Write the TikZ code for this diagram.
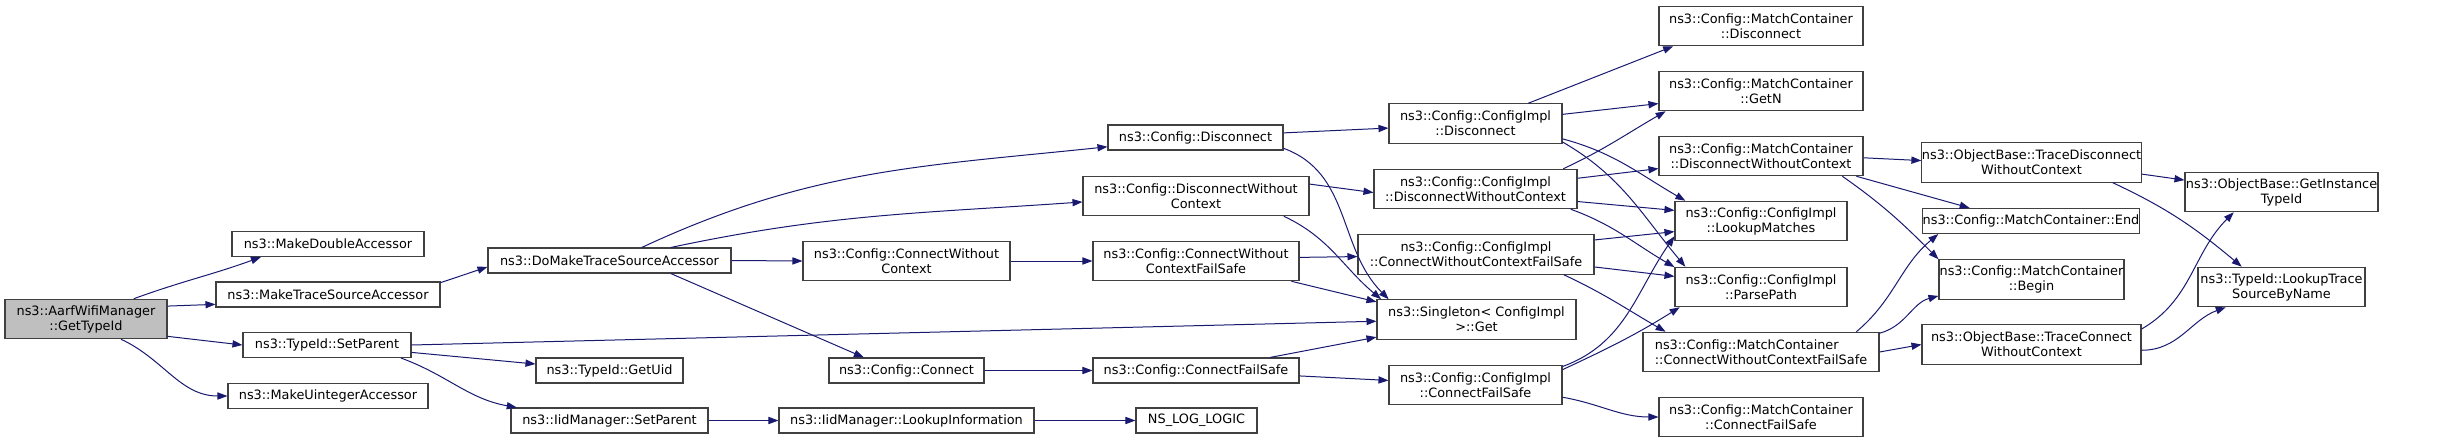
\documentclass[tikz,border=0pt]{standalone}
\usepackage{fontspec}
\newfontfamily\dejavu{DejaVu Sans}
\usetikzlibrary{arrows.meta}
\definecolor{edgeblue}{HTML}{191970}
\tikzset{
  fn/.style={draw=black!75, fill=white, line width=0.8pt, inner sep=0pt, align=center,
             minimum height=18.75pt, font=\dejavu\fontsize{9.65}{11.25}\selectfont},
  bw/.style={minimum width=#1*0.75pt},
  tall/.style={minimum height=29.6pt},
  root/.style={fn, fill=black!25},
  edge/.style={draw=edgeblue, line width=0.75pt, -{Triangle[length=7.5pt,width=5.4pt]}},
}
\begin{document}
\begin{tikzpicture}[x=0.75pt,y=-0.75pt]
  \useasboundingbox (0,0) rectangle (2437,443);

  % rank 0 and 1
  \node[root, bw=162, tall] (getid) at (86,319) {ns3::AarfWifiManager\\::GetTypeId};
  \node[fn, bw=192] (mkdbl) at (328,244) {ns3::MakeDoubleAccessor};
  \node[fn, bw=224] (mktrace) at (328,294.5) {ns3::MakeTraceSourceAccessor};
  \node[fn, bw=168] (tidpar) at (327,345) {ns3::TypeId::SetParent};
  \node[fn, bw=200] (mkuint) at (328,396) {ns3::MakeUintegerAccessor};

  % rank 2 and 3
  \node[fn, bw=243] (domake) at (609.5,260.5) {ns3::DoMakeTraceSourceAccessor};
  \node[fn, bw=147] (getuid) at (609.5,370.5) {ns3::TypeId::GetUid};
  \node[fn, bw=197] (iidpar) at (609.5,420.5) {ns3::IidManager::SetParent};
  \node[fn, bw=207, tall] (conwoc) at (906.5,261) {ns3::Config::ConnectWithout\\Context};
  \node[fn, bw=155] (con) at (906.5,370.5) {ns3::Config::Connect};
  \node[fn, bw=255] (lookinfo) at (906.5,420.5) {ns3::IidManager::LookupInformation};

  % rank 4
  \node[fn, bw=175] (discon) at (1195.5,137.5) {ns3::Config::Disconnect};
  \node[fn, bw=226, tall] (disconwoc) at (1196,196) {ns3::Config::DisconnectWithout\\Context};
  \node[fn, bw=206, tall] (conwocfs) at (1196,261) {ns3::Config::ConnectWithout\\ContextFailSafe};
  \node[fn, bw=206] (confs) at (1196,370.5) {ns3::Config::ConnectFailSafe};
  \node[fn, bw=121] (nslog) at (1196.5,420.5) {NS\_LOG\_LOGIC};

  % rank 5
  \node[fn, bw=173, tall] (idiscon) at (1475.5,123.5) {ns3::Config::ConfigImpl\\::Disconnect};
  \node[fn, bw=203, tall] (idisconwoc) at (1475.5,189) {ns3::Config::ConfigImpl\\::DisconnectWithoutContext};
  \node[fn, bw=236, tall] (iconwocfs) at (1476,254.5) {ns3::Config::ConfigImpl\\::ConnectWithoutContextFailSafe};
  \node[fn, bw=199, tall] (single) at (1476.5,319.5) {ns3::Singleton< ConfigImpl\\>::Get};
  \node[fn, bw=173, tall] (iconfs) at (1475.5,385) {ns3::Config::ConfigImpl\\::ConnectFailSafe};

  % rank 6
  \node[fn, bw=204, tall] (mdiscon) at (1761,26) {ns3::Config::MatchContainer\\::Disconnect};
  \node[fn, bw=204, tall] (getn) at (1761,91) {ns3::Config::MatchContainer\\::GetN};
  \node[fn, bw=204, tall] (mdisconwoc) at (1761,156) {ns3::Config::MatchContainer\\::DisconnectWithoutContext};
  \node[fn, bw=172, tall] (lookup) at (1761,221) {ns3::Config::ConfigImpl\\::LookupMatches};
  \node[fn, bw=172, tall] (parse) at (1761,287) {ns3::Config::ConfigImpl\\::ParsePath};
  \node[fn, bw=236, tall, align=left] (mconwocfs) at (1761,352) {ns3::Config::MatchContainer\\::ConnectWithoutContextFailSafe};
  \node[fn, bw=204, tall] (mconfs) at (1761,417) {ns3::Config::MatchContainer\\::ConnectFailSafe};

  % rank 7 and 8
  \node[fn, bw=219, tall] (tdiscon) at (2031.5,162.5) {ns3::ObjectBase::TraceDisconnect\\WithoutContext};
  \node[fn, bw=214] (mend) at (2031,221) {ns3::Config::MatchContainer::End};
  \node[fn, bw=185, tall] (mbegin) at (2031.5,279.5) {ns3::Config::MatchContainer\\::Begin};
  \node[fn, bw=219, tall] (tcon) at (2031.5,344.5) {ns3::ObjectBase::TraceConnect\\WithoutContext};
  \node[fn, bw=193, tall] (ginst) at (2281.5,192) {ns3::ObjectBase::GetInstance\\TypeId};
  \node[fn, bw=167, tall] (ltrace) at (2281.5,287) {ns3::TypeId::LookupTrace\\SourceByName};

  % calls
  \draw[edge] (getid.23) to[out=20,in=200] (mkdbl.191);
  \draw[edge] (getid.9) -- (mktrace.185);
  \draw[edge] (getid.-12) -- (tidpar.west);
  \draw[edge] (getid.-30) to[out=-25,in=180] (mkuint.west);
  \draw[edge] (mktrace.6) -- (domake.183);
  \draw[edge] (domake.22) to[out=25,in=186] (discon.186);
  \draw[edge] (domake.12) to[out=12,in=184] (disconwoc.183);
  \draw[edge] (domake.east) -- (conwoc.west);
  \draw[edge] (domake.-12) -- (con.163);
  \draw[edge] (tidpar.east) -- (single.181);
  \draw[edge] (tidpar.-5) -- (getuid.175);
  \draw[edge] (tidpar.-10) to[out=-20,in=170] (iidpar.172);
  \draw[edge] (iidpar.east) -- (lookinfo.west);
  \draw[edge] (lookinfo.east) -- (nslog.west);
  \draw[edge] (conwoc.east) -- (conwocfs.west);
  \draw[edge] (con.east) -- (confs.west);

  \draw[edge] (discon.3) -- (idiscon.183);
  \draw[edge] (discon.-7) to[out=-20,in=135] (single.167);
  \draw[edge] (disconwoc.6) -- (idisconwoc.182);
  \draw[edge] (disconwoc.-13) to[out=-25,in=140] (single.168.5);
  \draw[edge] (conwocfs.2) -- (iconwocfs.181);
  \draw[edge] (conwocfs.-12) -- (single.170);
  \draw[edge] (confs.10) -- (single.190);
  \draw[edge] (confs.-3) -- (iconfs.177);

  \draw[edge] (idiscon.21) -- (mdiscon.193);
  \draw[edge] (idiscon.6) -- (getn.187);
  \draw[edge] (idiscon.-10) to[out=-15,in=150] (lookup.165);
  \draw[edge] (idiscon.-12) to[out=-30,in=130] (parse.165);
  \draw[edge] (idisconwoc.13) to[out=25,in=210] (getn.192);
  \draw[edge] (idisconwoc.6) -- (mdisconwoc.187);
  \draw[edge] (idisconwoc.-7) -- (lookup.173);
  \draw[edge] (idisconwoc.-12) to[out=-20,in=150] (parse.167);
  \draw[edge] (iconwocfs.7) -- (lookup.187);
  \draw[edge] (iconwocfs.-6.5) -- (parse.173);
  \draw[edge] (iconwocfs.-13) to[out=-25,in=150] (mconwocfs.168);
  \draw[edge] (iconfs.12) to[out=20,in=235] (lookup.190);
  \draw[edge] (iconfs.10) to[out=25,in=212] (parse.194);
  \draw[edge] (iconfs.-8) to[out=-10,in=180] (mconfs.west);

  \draw[edge] (mdisconwoc.-1) -- (tdiscon.179);
  \draw[edge] (mdisconwoc.-12) -- (mend.168);
  \draw[edge] (mdisconwoc.-14) to[out=-35,in=135] (mbegin.north west);
  \draw[edge] (mconwocfs.12) to[out=40,in=220] (mend.188);
  \draw[edge] (mconwocfs.9) to[out=15,in=195] (mbegin.190);
  \draw[edge] (mconwocfs.east) -- (tcon.west);
  \draw[edge] (tdiscon.-6.5) -- (ginst.173.5);
  \draw[edge] (tdiscon.-14) to[out=-25,in=140] (ltrace.153);
  \draw[edge] (tcon.8) to[out=30,in=225] (ginst.203);
  \draw[edge] (tcon.-3) to[out=0,in=200] (ltrace.200);
\end{tikzpicture}
\end{document}
